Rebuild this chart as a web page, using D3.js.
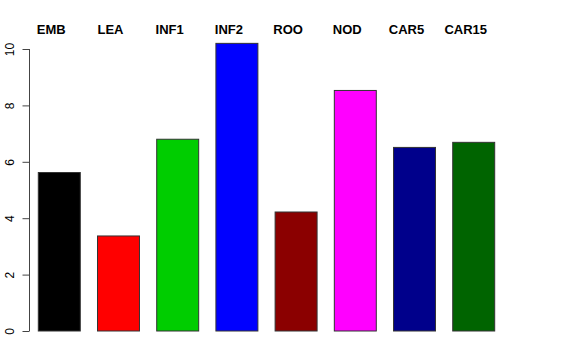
<!DOCTYPE html>
<html><head><meta charset="utf-8">
<script src="https://cdn.jsdelivr.net/npm/d3@7"></script>
<style>body{margin:0;background:#fff}svg{display:block}</style>
</head><body>
<script>
const categories = ["EMB","LEA","INF1","INF2","ROO","NOD","CAR5","CAR15"];
const values = [5.62, 3.37, 6.80, 10.2, 4.22, 8.53, 6.51, 6.69];
const colors = ["#000000","#ff0000","#00cd00","#0000ff","#8b0000","#ff00ff","#00008b","#006400"];
const yTicks = [0,2,4,6,8,10];

const W = 576, H = 360;
const svg = d3.select("body").append("svg").attr("width", W).attr("height", H);

const y = d3.scaleLinear().domain([0,10]).range([331,49]);
const x = d3.scaleBand().domain(categories).range([38.3,494.7]).paddingInner(0.291).paddingOuter(0);

svg.selectAll("rect.bar").data(categories).join("rect")
  .attr("class","bar")
  .attr("x", d => x(d))
  .attr("width", x.bandwidth())
  .attr("y", (d,i) => y(values[i]))
  .attr("height", (d,i) => y(0) - y(values[i]))
  .attr("fill", (d,i) => colors[i])
  .attr("stroke", "#333")
  .attr("stroke-width", 1);

const axis = d3.axisLeft(y).tickValues(yTicks).tickSize(7).tickPadding(8).tickFormat(d3.format("d"));
const g = svg.append("g").attr("transform","translate(29.5,0)").call(axis);
g.select(".domain").attr("stroke","#444").attr("d", `M-7,${y(0)}H0V${y(10)}H-7`).attr("d", `M0,${y(0)}V${y(10)}`);
g.selectAll(".tick line").attr("stroke","#444");
g.selectAll(".tick text")
  .attr("font-family","'Liberation Sans', Arial, sans-serif")
  .attr("font-size", 12)
  .attr("fill","#000")
  .attr("transform", d => `rotate(-90, -15, 0)`)
  .attr("x", -15).attr("dx", 15).attr("dy", 0)
  .attr("text-anchor","middle");
g.selectAll(".tick text").each(function(){
  d3.select(this).attr("x", 0).attr("dx", 0).attr("y", 0).attr("dy", 0)
    .attr("transform", "translate(-16,0) rotate(-90)")
    .attr("dominant-baseline", "auto");
});

svg.selectAll("text.cat").data(categories).join("text")
  .attr("class","cat")
  .attr("x", d => x(d) + x.bandwidth()/2 - 8)
  .attr("y", 34)
  .attr("text-anchor","middle")
  .attr("font-family","'Liberation Sans', Arial, sans-serif")
  .attr("font-weight","bold")
  .attr("font-size", 13)
  .text(d => d);
</script>
</body></html>
